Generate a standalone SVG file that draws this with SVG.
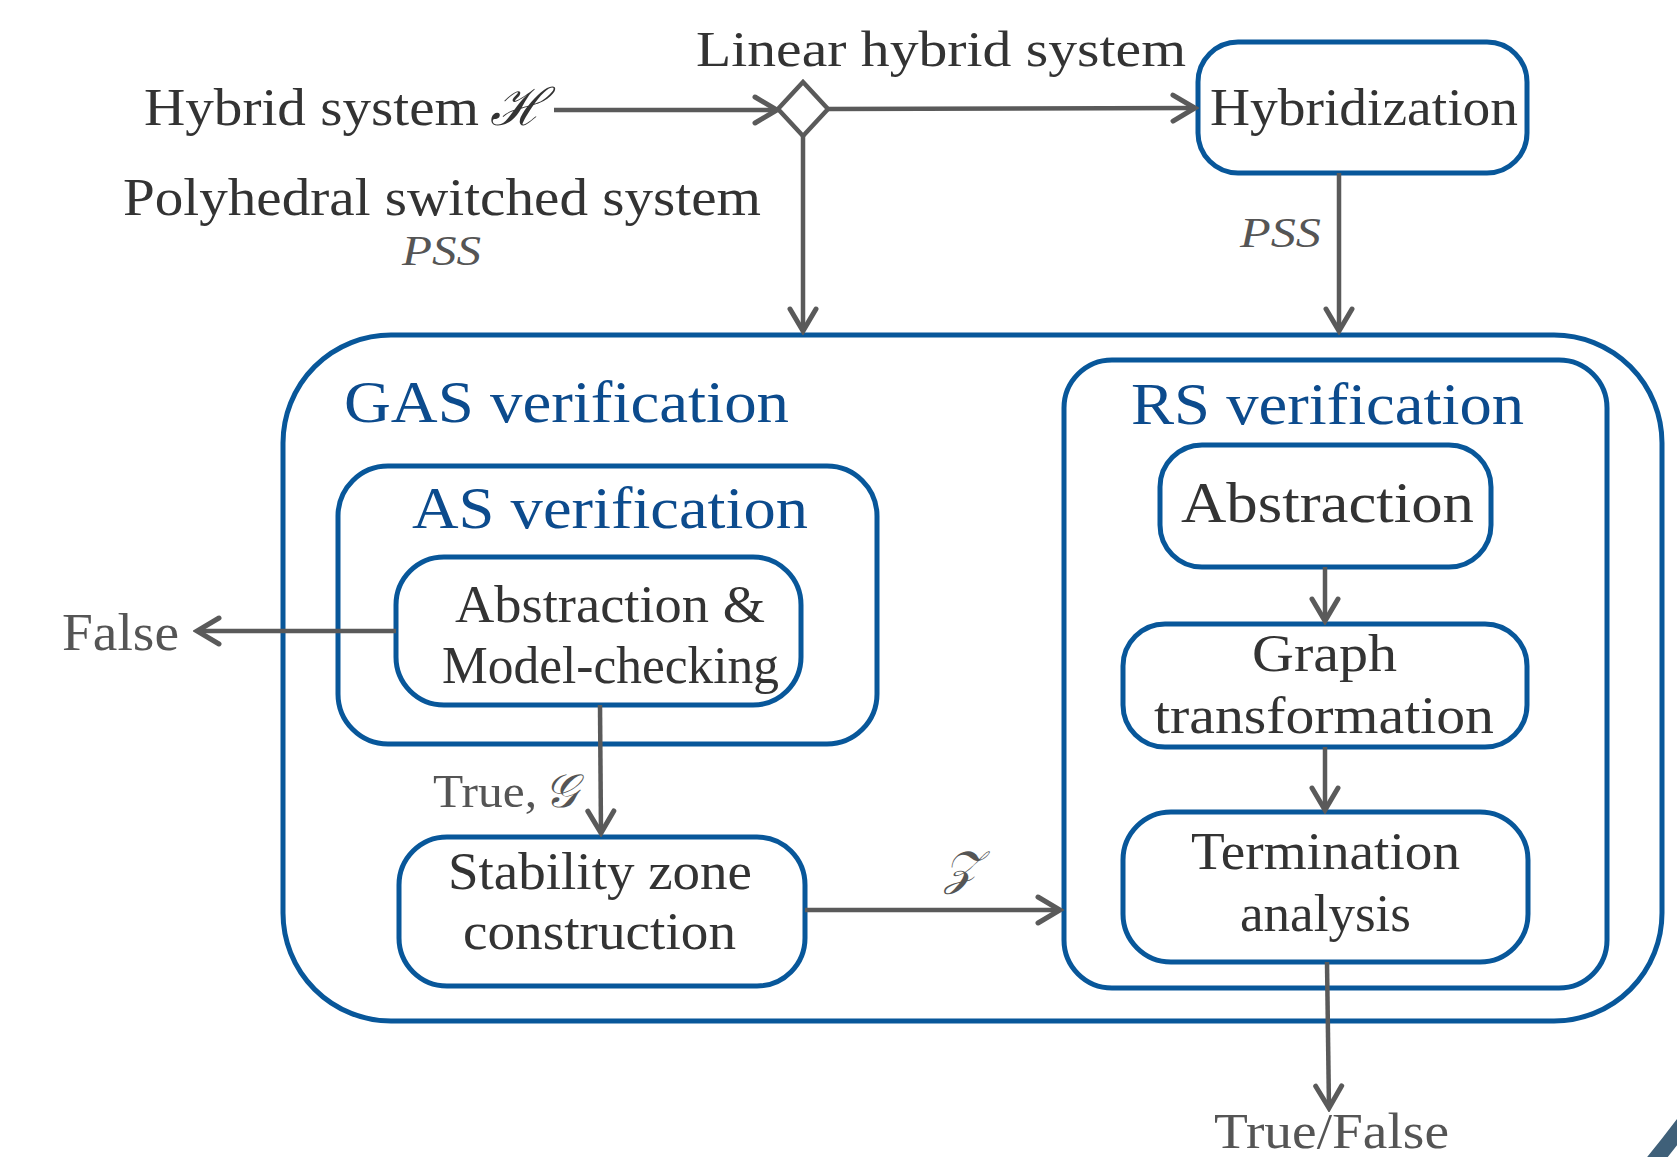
<svg xmlns="http://www.w3.org/2000/svg" width="1677" height="1157" viewBox="0 0 1677 1157">
<style>
  .box { fill: #ffffff; stroke: #08579a; stroke-width: 5; }
  .t { font-family: "Liberation Serif", "DejaVu Serif", serif; fill: #333333; font-size: 52px; }
  .g { fill: #555555; }
  .title { fill: #0c4b8d; font-size: 60px; }
  .it { font-style: italic; font-size: 42px; }
  .edge { stroke: #5a5a5a; stroke-width: 4.5; fill: none; }
</style>
<defs>
  <marker id="arr" viewBox="-26 -16 30 32" markerWidth="30" markerHeight="32" refX="0" refY="0" orient="auto" markerUnits="userSpaceOnUse">
    <path d="M-22,-13 L0,0 L-22,13" fill="none" stroke="#5a5a5a" stroke-width="5" stroke-linecap="round" stroke-linejoin="miter"/>
  </marker>
</defs>
<rect width="1677" height="1157" fill="#ffffff"/>

<g id="gas">
  <rect class="box" x="283" y="335" width="1379" height="686" rx="108" ry="108"/>
  <text class="t title" x="344" y="422" textLength="445" lengthAdjust="spacingAndGlyphs">GAS verification</text>
</g>
<g id="as">
  <rect class="box" x="338" y="466" width="539" height="278" rx="50" ry="50"/>
  <text class="t title" x="412" y="528" textLength="396" lengthAdjust="spacingAndGlyphs">AS verification</text>
</g>
<g id="abs-mc">
  <rect class="box" x="396" y="557" width="405" height="148" rx="48" ry="48"/>
  <text class="t" x="455" y="622" textLength="310" lengthAdjust="spacingAndGlyphs">Abstraction &amp;</text>
  <text class="t" x="442" y="683" textLength="337" lengthAdjust="spacingAndGlyphs">Model-checking</text>
</g>
<g id="stability">
  <rect class="box" x="399" y="837" width="406" height="149" rx="48" ry="48"/>
  <text class="t" x="448" y="889" textLength="304" lengthAdjust="spacingAndGlyphs">Stability zone</text>
  <text class="t" x="463" y="949" textLength="273" lengthAdjust="spacingAndGlyphs">construction</text>
</g>
<g id="rs">
  <rect class="box" x="1064" y="360" width="543" height="628" rx="48" ry="48"/>
  <text class="t title" x="1131" y="424" textLength="393" lengthAdjust="spacingAndGlyphs">RS verification</text>
</g>
<g id="abstraction">
  <rect class="box" x="1160" y="445" width="331" height="122" rx="42" ry="42"/>
  <text class="t" x="1181" y="522" font-size="58" textLength="293" lengthAdjust="spacingAndGlyphs" style="font-size:58px">Abstraction</text>
</g>
<g id="graph">
  <rect class="box" x="1123" y="624" width="404" height="123" rx="42" ry="42"/>
  <text class="t" x="1252" y="671" textLength="145" lengthAdjust="spacingAndGlyphs">Graph</text>
  <text class="t" x="1154" y="733" textLength="340" lengthAdjust="spacingAndGlyphs">transformation</text>
</g>
<g id="termination">
  <rect class="box" x="1123" y="812" width="405" height="150" rx="48" ry="48"/>
  <text class="t" x="1191" y="869" textLength="269" lengthAdjust="spacingAndGlyphs">Termination</text>
  <text class="t" x="1240" y="931" textLength="171" lengthAdjust="spacingAndGlyphs">analysis</text>
</g>
<g id="hybridization">
  <rect class="box" x="1198" y="42" width="329" height="131" rx="40" ry="40"/>
  <text class="t" x="1210" y="125" textLength="308" lengthAdjust="spacingAndGlyphs">Hybridization</text>
</g>
<g id="decision">
  <polygon points="803,82 828,109 803,136 778,109" fill="#ffffff" stroke="#5a5a5a" stroke-width="4.5"/>
</g>
<g id="input">
  <text class="t" x="144" y="125" textLength="335" lengthAdjust="spacingAndGlyphs">Hybrid system</text>
  <text class="t" x="490" y="125" font-style="italic">ℋ</text>
</g>
<g id="labels">
  <text class="t" x="696" y="66" style="font-size:50px" textLength="490" lengthAdjust="spacingAndGlyphs">Linear hybrid system</text>
  <text class="t" x="123" y="215" textLength="638" lengthAdjust="spacingAndGlyphs">Polyhedral switched system</text>
  <text class="t g it" x="402" y="265" textLength="79" lengthAdjust="spacingAndGlyphs">PSS</text>
  <text class="t g it" x="1240" y="247" textLength="81" lengthAdjust="spacingAndGlyphs">PSS</text>
  <text class="t g" x="433" y="807" style="font-size:47px" textLength="104" lengthAdjust="spacingAndGlyphs">True,</text>
  <text class="t g" x="544" y="807" style="font-size:47px" font-style="italic">𝒢</text>
  <text class="t g" x="944" y="884" style="font-size:47px" font-style="italic">𝒵</text>
</g>
<g id="outputs">
  <text class="t g" x="62" y="650" textLength="117" lengthAdjust="spacingAndGlyphs">False</text>
  <text class="t g" x="1214" y="1148" style="font-size:50px" textLength="235" lengthAdjust="spacingAndGlyphs">True/False</text>
</g>

<g id="connectors">
  <line class="edge" x1="554" y1="110" x2="777" y2="110" marker-end="url(#arr)"/>
  <line class="edge" x1="828" y1="109" x2="1195" y2="108" marker-end="url(#arr)"/>
  <line class="edge" x1="803" y1="136" x2="803" y2="331" marker-end="url(#arr)"/>
  <line class="edge" x1="1339" y1="173" x2="1339" y2="331" marker-end="url(#arr)"/>
  <line class="edge" x1="396" y1="631" x2="197" y2="631" marker-end="url(#arr)"/>
  <line class="edge" x1="600" y1="705" x2="601" y2="833" marker-end="url(#arr)"/>
  <line class="edge" x1="805" y1="910" x2="1060" y2="910" marker-end="url(#arr)"/>
  <line class="edge" x1="1325" y1="567" x2="1325" y2="621" marker-end="url(#arr)"/>
  <line class="edge" x1="1325" y1="747" x2="1325" y2="810" marker-end="url(#arr)"/>
  <line class="edge" x1="1327" y1="962" x2="1329" y2="1108" marker-end="url(#arr)"/>
</g>

<path d="M1640,1178 Q1664,1150 1690,1115" fill="none" stroke="#3f6079" stroke-width="16"/>
</svg>
